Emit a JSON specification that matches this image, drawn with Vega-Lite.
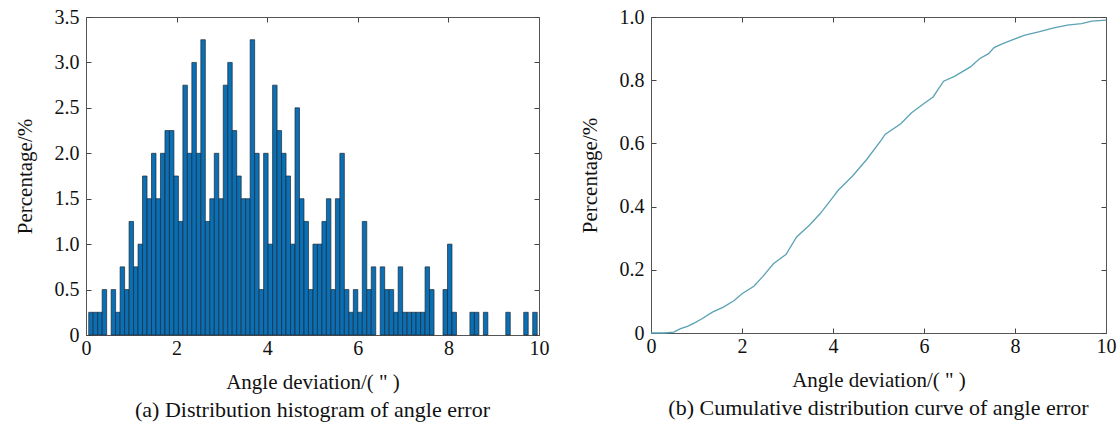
{
  "$schema": "https://vega.github.io/schema/vega-lite/v6.json",
  "background": "white",
  "padding": {"left": 14, "top": 7, "right": 1, "bottom": 3},
  "autosize": {"type": "pad"},
  "spacing": 112,
  "bounds": "flush",
  "config": {
    "font": "Liberation Serif",
    "view": {"stroke": null},
    "axis": {
      "domain": true,
      "domainColor": "#555555",
      "domainWidth": 1,
      "grid": false,
      "labelFlush": false,
      "labelOverlap": false,
      "labelFont": "Liberation Serif",
      "labelFontSize": 20,
      "labelColor": "#111111",
      "titleFont": "Liberation Serif",
      "titleFontSize": 21,
      "titleFontWeight": "normal",
      "titleColor": "#111111",
      "tickColor": "#444444",
      "tickSize": -5,
      "labelPadding": 8
    },
    "axisY": {"labelPadding": 12},
    "title": {"font": "Liberation Serif", "fontSize": 22, "fontWeight": "normal", "color": "#111111"}
  },
  "datasets": {
    "hist": [
      {"lo": 0.060, "hi": 0.159, "p": 0.25},
      {"lo": 0.159, "hi": 0.258, "p": 0.25},
      {"lo": 0.258, "hi": 0.357, "p": 0.25},
      {"lo": 0.357, "hi": 0.456, "p": 0.5},
      {"lo": 0.555, "hi": 0.654, "p": 0.5},
      {"lo": 0.654, "hi": 0.753, "p": 0.25},
      {"lo": 0.753, "hi": 0.852, "p": 0.75},
      {"lo": 0.852, "hi": 0.951, "p": 0.5},
      {"lo": 0.951, "hi": 1.050, "p": 1.25},
      {"lo": 1.050, "hi": 1.149, "p": 0.75},
      {"lo": 1.149, "hi": 1.248, "p": 1.0},
      {"lo": 1.248, "hi": 1.347, "p": 1.75},
      {"lo": 1.347, "hi": 1.446, "p": 1.5},
      {"lo": 1.446, "hi": 1.545, "p": 2.0},
      {"lo": 1.545, "hi": 1.644, "p": 1.5},
      {"lo": 1.644, "hi": 1.743, "p": 2.0},
      {"lo": 1.743, "hi": 1.842, "p": 2.25},
      {"lo": 1.842, "hi": 1.941, "p": 2.25},
      {"lo": 1.941, "hi": 2.040, "p": 1.75},
      {"lo": 2.040, "hi": 2.139, "p": 1.25},
      {"lo": 2.139, "hi": 2.238, "p": 2.75},
      {"lo": 2.238, "hi": 2.337, "p": 2.0},
      {"lo": 2.337, "hi": 2.436, "p": 3.0},
      {"lo": 2.436, "hi": 2.535, "p": 2.0},
      {"lo": 2.535, "hi": 2.634, "p": 3.25},
      {"lo": 2.634, "hi": 2.733, "p": 1.25},
      {"lo": 2.733, "hi": 2.832, "p": 1.5},
      {"lo": 2.832, "hi": 2.931, "p": 2.0},
      {"lo": 2.931, "hi": 3.030, "p": 1.5},
      {"lo": 3.030, "hi": 3.129, "p": 2.75},
      {"lo": 3.129, "hi": 3.228, "p": 3.0},
      {"lo": 3.228, "hi": 3.327, "p": 2.25},
      {"lo": 3.327, "hi": 3.426, "p": 1.75},
      {"lo": 3.426, "hi": 3.525, "p": 1.5},
      {"lo": 3.525, "hi": 3.624, "p": 1.5},
      {"lo": 3.624, "hi": 3.723, "p": 3.25},
      {"lo": 3.723, "hi": 3.822, "p": 2.0},
      {"lo": 3.822, "hi": 3.921, "p": 0.5},
      {"lo": 3.921, "hi": 4.020, "p": 2.0},
      {"lo": 4.020, "hi": 4.119, "p": 1.0},
      {"lo": 4.119, "hi": 4.218, "p": 2.75},
      {"lo": 4.218, "hi": 4.317, "p": 2.25},
      {"lo": 4.317, "hi": 4.416, "p": 2.0},
      {"lo": 4.416, "hi": 4.515, "p": 1.75},
      {"lo": 4.515, "hi": 4.614, "p": 1.0},
      {"lo": 4.614, "hi": 4.713, "p": 2.5},
      {"lo": 4.713, "hi": 4.812, "p": 1.5},
      {"lo": 4.812, "hi": 4.911, "p": 1.25},
      {"lo": 4.911, "hi": 5.010, "p": 0.5},
      {"lo": 5.010, "hi": 5.109, "p": 1.0},
      {"lo": 5.109, "hi": 5.208, "p": 1.0},
      {"lo": 5.208, "hi": 5.307, "p": 1.25},
      {"lo": 5.307, "hi": 5.406, "p": 1.5},
      {"lo": 5.406, "hi": 5.505, "p": 0.5},
      {"lo": 5.505, "hi": 5.604, "p": 1.5},
      {"lo": 5.604, "hi": 5.703, "p": 2.0},
      {"lo": 5.703, "hi": 5.802, "p": 0.5},
      {"lo": 5.802, "hi": 5.901, "p": 0.25},
      {"lo": 5.901, "hi": 6.000, "p": 0.5},
      {"lo": 6.000, "hi": 6.099, "p": 0.25},
      {"lo": 6.099, "hi": 6.198, "p": 1.25},
      {"lo": 6.198, "hi": 6.297, "p": 0.5},
      {"lo": 6.297, "hi": 6.396, "p": 0.75},
      {"lo": 6.495, "hi": 6.594, "p": 0.75},
      {"lo": 6.594, "hi": 6.693, "p": 0.5},
      {"lo": 6.693, "hi": 6.792, "p": 0.5},
      {"lo": 6.792, "hi": 6.891, "p": 0.25},
      {"lo": 6.891, "hi": 6.990, "p": 0.75},
      {"lo": 6.990, "hi": 7.089, "p": 0.25},
      {"lo": 7.089, "hi": 7.188, "p": 0.25},
      {"lo": 7.188, "hi": 7.287, "p": 0.25},
      {"lo": 7.287, "hi": 7.386, "p": 0.25},
      {"lo": 7.386, "hi": 7.485, "p": 0.25},
      {"lo": 7.485, "hi": 7.584, "p": 0.75},
      {"lo": 7.584, "hi": 7.683, "p": 0.5},
      {"lo": 7.881, "hi": 7.980, "p": 0.5},
      {"lo": 7.980, "hi": 8.079, "p": 1.0},
      {"lo": 8.079, "hi": 8.178, "p": 0.25},
      {"lo": 8.475, "hi": 8.574, "p": 0.25},
      {"lo": 8.574, "hi": 8.673, "p": 0.25},
      {"lo": 8.772, "hi": 8.871, "p": 0.25},
      {"lo": 9.267, "hi": 9.366, "p": 0.25},
      {"lo": 9.663, "hi": 9.762, "p": 0.25},
      {"lo": 9.861, "hi": 9.960, "p": 0.25}
    ],
    "cdf": [
      {"x": 0, "y": 0}, {"x": 0.3, "y": 0}, {"x": 0.5, "y": 0.003}, {"x": 0.65, "y": 0.014},
      {"x": 0.8, "y": 0.021}, {"x": 0.96, "y": 0.032}, {"x": 1.12, "y": 0.045}, {"x": 1.35, "y": 0.066},
      {"x": 1.59, "y": 0.082}, {"x": 1.83, "y": 0.103}, {"x": 2.0, "y": 0.124}, {"x": 2.26, "y": 0.148},
      {"x": 2.46, "y": 0.179}, {"x": 2.69, "y": 0.219}, {"x": 2.97, "y": 0.249}, {"x": 3.2, "y": 0.304},
      {"x": 3.48, "y": 0.341}, {"x": 3.72, "y": 0.378}, {"x": 4.0, "y": 0.43}, {"x": 4.11, "y": 0.451},
      {"x": 4.43, "y": 0.497}, {"x": 4.74, "y": 0.549}, {"x": 5.06, "y": 0.61}, {"x": 5.15, "y": 0.629},
      {"x": 5.49, "y": 0.662}, {"x": 5.72, "y": 0.696}, {"x": 6.0, "y": 0.726}, {"x": 6.2, "y": 0.747},
      {"x": 6.43, "y": 0.797}, {"x": 6.67, "y": 0.812}, {"x": 7.02, "y": 0.842}, {"x": 7.22, "y": 0.868},
      {"x": 7.42, "y": 0.884}, {"x": 7.54, "y": 0.903}, {"x": 7.73, "y": 0.916}, {"x": 7.97, "y": 0.929},
      {"x": 8.2, "y": 0.942}, {"x": 8.52, "y": 0.953}, {"x": 8.83, "y": 0.965}, {"x": 9.15, "y": 0.974},
      {"x": 9.46, "y": 0.979}, {"x": 9.69, "y": 0.987}, {"x": 10.0, "y": 0.99}
    ]
  },
  "hconcat": [
    {
      "width": 453,
      "height": 318,
      "title": {"text": "(a) Distribution histogram of angle error", "orient": "bottom", "offset": 8},
      "data": {"name": "hist"},
      "layer": [
        {
          "mark": {"type": "bar", "fill": "#0a6fb5", "stroke": "#1e2a33", "strokeWidth": 0.7},
          "encoding": {
            "x": {"field": "lo", "type": "quantitative", "scale": {"domain": [0, 10], "nice": false},
                  "axis": {"orient": "bottom", "values": [0, 2, 4, 6, 8, 10], "title": "Angle deviation/( \" )", "titlePadding": 13}},
            "x2": {"field": "hi"},
            "y": {"field": "p", "type": "quantitative", "scale": {"domain": [0, 3.5], "nice": false},
                  "axis": {"orient": "left", "values": [0, 0.5, 1, 1.5, 2, 2.5, 3, 3.5], "labelExpr": "datum.value == 0 ? '0' : format(datum.value, '.1f')", "title": "Percentage/%", "titlePadding": 19}},
            "y2": {"datum": 0}
          }
        },
        {
          "mark": {"type": "point", "opacity": 0},
          "encoding": {
            "x": {"field": "lo", "type": "quantitative", "axis": {"orient": "top", "values": [0, 2, 4, 6, 8, 10], "labels": false, "title": null}},
            "y": {"field": "p", "type": "quantitative", "axis": {"orient": "right", "values": [0, 0.5, 1, 1.5, 2, 2.5, 3, 3.5], "labels": false, "title": null}}
          }
        }
      ],
      "resolve": {"axis": {"x": "independent", "y": "independent"}}
    },
    {
      "width": 455,
      "height": 316,
      "title": {"text": "(b) Cumulative distribution curve of angle error", "orient": "bottom", "offset": 8},
      "data": {"name": "cdf"},
      "layer": [
        {
          "mark": {"type": "line", "color": "#5aa2b4", "strokeWidth": 1.3},
          "encoding": {
            "x": {"field": "x", "type": "quantitative", "scale": {"domain": [0, 10], "nice": false},
                  "axis": {"orient": "bottom", "values": [0, 2, 4, 6, 8, 10], "title": "Angle deviation/( \" )", "titlePadding": 13}},
            "y": {"field": "y", "type": "quantitative", "scale": {"domain": [0, 1], "nice": false},
                  "axis": {"orient": "left", "values": [0, 0.2, 0.4, 0.6, 0.8, 1], "labelExpr": "datum.value == 0 ? '0' : format(datum.value, '.1f')", "title": "Percentage/%", "titlePadding": 19}}
          }
        },
        {
          "mark": {"type": "point", "opacity": 0},
          "encoding": {
            "x": {"field": "x", "type": "quantitative", "axis": {"orient": "top", "values": [0, 2, 4, 6, 8, 10], "labels": false, "title": null}},
            "y": {"field": "y", "type": "quantitative", "axis": {"orient": "right", "values": [0, 0.2, 0.4, 0.6, 0.8, 1], "labels": false, "title": null}}
          }
        }
      ],
      "resolve": {"axis": {"x": "independent", "y": "independent"}}
    }
  ]
}
